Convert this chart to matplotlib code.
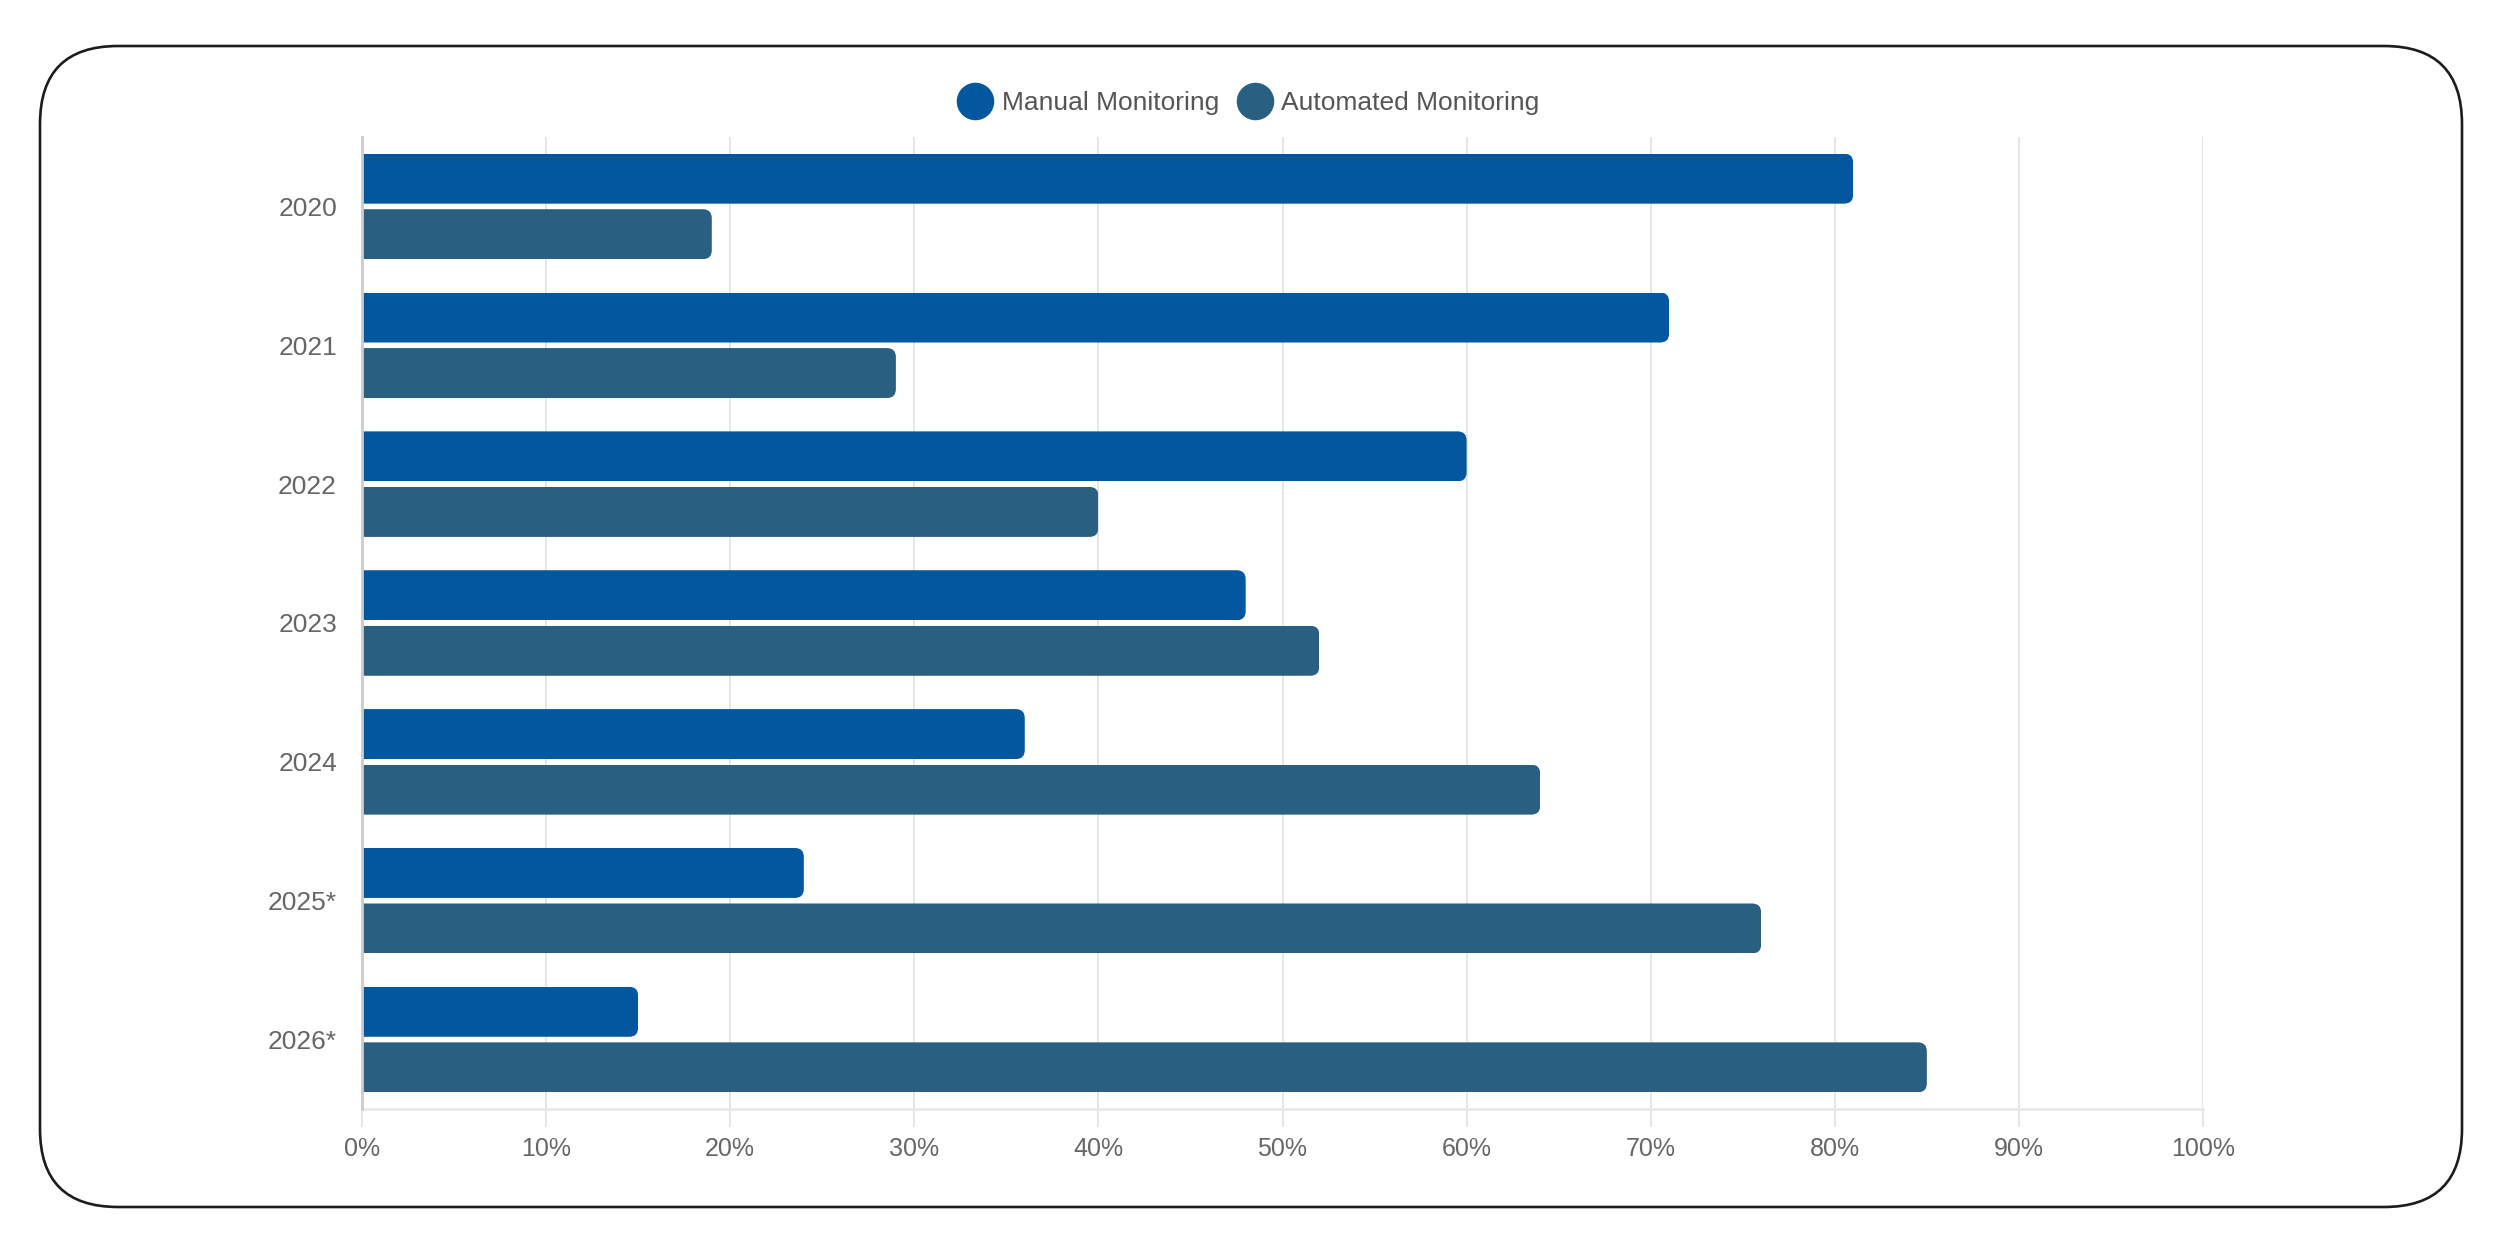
import matplotlib
matplotlib.use("Agg")
import matplotlib.pyplot as plt
from matplotlib.patches import FancyBboxPatch
from matplotlib.lines import Line2D
from matplotlib.transforms import IdentityTransform
import numpy as np

years = ["2020", "2021", "2022", "2023", "2024", "2025*", "2026*"]
manual = [81, 71, 60, 48, 36, 24, 15]
automated = [19, 29, 40, 52, 64, 76, 85]
x_ticks = [0, 10, 20, 30, 40, 50, 60, 70, 80, 90, 100]
x_tick_labels = [f"{v}%" for v in x_ticks]
series_names = ["Manual Monitoring", "Automated Monitoring"]

C_MANUAL = "#03579F"
C_AUTO = "#295F81"
TXT = "#666666"
GRID = "#e6e6e6"

plt.rcParams["font.family"] = ["Liberation Sans", "DejaVu Sans"]

W, H = 2497, 1240
DPI = 100
fig = plt.figure(figsize=(W / DPI, H / DPI), dpi=DPI)
fig.patch.set_facecolor("white")

# outer rounded frame (pixel coords)
frame = FancyBboxPatch((40, 33), 2462 - 40, 1207 - 46,
                       boxstyle="round,pad=0,rounding_size=78",
                       transform=IdentityTransform(), facecolor="none",
                       edgecolor="#1c1c1c", linewidth=1.9, zorder=-1)
fig.patches.append(frame)

ax = fig.add_axes([362 / W, 131 / H, 1841 / W, 972 / H])
ax.set_facecolor("none")

y = np.arange(len(years))
bh = 0.36
off = 0.2
b1 = ax.barh(y - off, manual, height=bh, color=C_MANUAL, zorder=3)
b2 = ax.barh(y + off, automated, height=bh, color=C_AUTO, zorder=3)

ax.set_xlim(0, 100)
ax.set_ylim(len(years) - 0.5, -0.5)
ax.set_xticks(x_ticks)
ax.set_xticklabels(x_tick_labels)
ax.set_yticks(y)
ax.set_yticklabels(years)

ax.grid(axis="x", color=GRID, linewidth=1.4, zorder=0)
ax.set_axisbelow(True)
for s in ["top", "right"]:
    ax.spines[s].set_visible(False)
ax.spines["left"].set_color("#cccccc")
ax.spines["left"].set_linewidth(2.0)
ax.spines["left"].set_zorder(4)
ax.spines["bottom"].set_color(GRID)
ax.spines["bottom"].set_linewidth(1.8)

ax.tick_params(axis="x", length=13, width=1.4, color=GRID, pad=7,
               labelsize=18, labelcolor=TXT)
ax.tick_params(axis="y", length=0, pad=18, labelsize=19, labelcolor=TXT)

# rounded right ends of bars: clip each bar by a rounded box in pixel space
r = 9
for bars in (b1, b2):
    for rect in bars:
        x0, y0 = ax.transData.transform((rect.get_x(), rect.get_y()))
        x1, y1 = ax.transData.transform((rect.get_x() + rect.get_width(),
                                         rect.get_y() + rect.get_height()))
        xa, xb = min(x0, x1), max(x0, x1)
        ya, yb = min(y0, y1), max(y0, y1)
        clip = FancyBboxPatch((xa - 30, ya), (xb - xa) + 30, yb - ya,
                              boxstyle=f"round,pad=0,rounding_size={r}",
                              transform=IdentityTransform())
        rect.set_clip_path(clip)

handles = [Line2D([], [], linestyle="none", marker="o", markersize=26,
                  markerfacecolor=c, markeredgecolor=c)
           for c in (C_MANUAL, C_AUTO)]
fig.legend(handles, series_names, loc="center", ncol=2,
           bbox_to_anchor=(0.5, 1 - 103 / H), frameon=False,
           fontsize=19, labelcolor="#555555", handlelength=1.36,
           handletextpad=0.34, columnspacing=0.65)

fig.savefig("out.png", dpi=DPI, facecolor="white")
